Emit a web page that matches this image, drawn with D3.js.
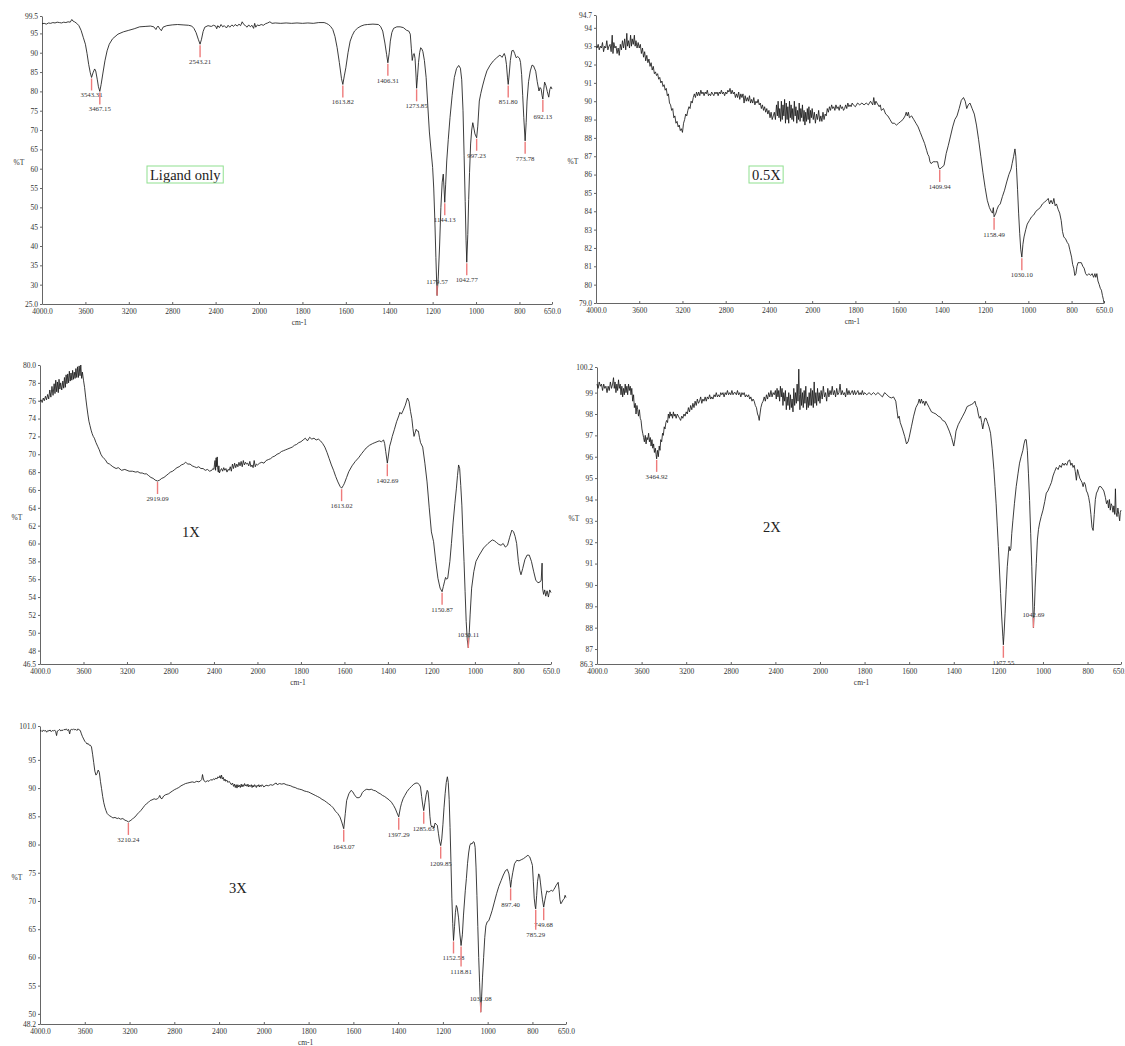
<!DOCTYPE html>
<html>
<head>
<meta charset="utf-8">
<script src="https://cdn.jsdelivr.net/npm/d3@7"></script>
<style>
  body { margin: 0; background: #fff; }
  svg { display: block; }
  text { font-family: "Liberation Serif", "Times New Roman", serif; }
</style>
</head>
<body>
<svg id="chart" width="1125" height="1046"></svg>
<script>
// ---- Wavenumber axis (shared by every spectrum) ----
const xTickValues = [4000, 3600, 3200, 2800, 2400, 2000, 1800, 1600, 1400, 1200, 1000, 800, 650];
const xTickLabels = ["4000.0", "3600", "3200", "2800", "2400", "2000", "1800", "1600", "1400", "1200", "1000", "800", "650.0"];

// ---- %T axis ticks per spectrum ----
const yTicksLigand = [99.5, 95, 90, 85, 80, 75, 70, 65, 60, 55, 50, 45, 40, 35, 30, 25.0];
const yLabelsLigand = ["99.5", "95", "90", "85", "80", "75", "70", "65", "60", "55", "50", "45", "40", "35", "30", "25.0"];
const yTicks05X = [94.7, 94, 93, 92, 91, 90, 89, 88, 87, 86, 85, 84, 83, 82, 81, 80, 79.0];
const yLabels05X = ["94.7", "94", "93", "92", "91", "90", "89", "88", "87", "86", "85", "84", "83", "82", "81", "80", "79.0"];
const yTicks1X = [80.0, 78, 76, 74, 72, 70, 68, 66, 64, 62, 60, 58, 56, 54, 52, 50, 48, 46.5];
const yLabels1X = ["80.0", "78", "76", "74", "72", "70", "68", "66", "64", "62", "60", "58", "56", "54", "52", "50", "48", "46.5"];
const yTicks2X = [100.2, 99, 98, 97, 96, 95, 94, 93, 92, 91, 90, 89, 88, 87, 86.3];
const yLabels2X = ["100.2", "99", "98", "97", "96", "95", "94", "93", "92", "91", "90", "89", "88", "87", "86.3"];
const yTicks3X = [101.0, 95, 90, 85, 80, 75, 70, 65, 60, 55, 50, 48.2];
const yLabels3X = ["101.0", "95", "90", "85", "80", "75", "70", "65", "60", "55", "50", "48.2"];

// ---- Spectra: [wavenumber cm-1, %T] ----
const spectrumLigand = [[4000,97.5],[3980,97.6],[3960,97.4],[3940,97.7],[3920,97.6],[3900,97.8],[3880,97.7],[3860,97.9],[3840,97.8],[3820,97.7],[3800,97.9],[3780,97.8],[3760,98.0],[3740,97.9],[3725,98.6],[3715,98.2],[3700,98.0],[3680,97.6],[3660,97.0],[3640,95.8],[3620,94.0],[3600,92.2],[3585,89.8],[3570,87.0],[3555,84.8],[3543.31,83.6],[3530,84.8],[3515,85.8],[3505,85.3],[3490,83.0],[3480,81.2],[3467.15,80.0],[3455,81.8],[3440,84.5],[3420,87.9],[3400,90.5],[3380,92.2],[3350,93.6],[3300,94.8],[3250,95.4],[3200,95.8],[3150,96.2],[3100,96.7],[3050,96.8],[3000,96.9],[2970,96.7],[2950,96.0],[2940,96.6],[2930,96.9],[2915,96.2],[2900,95.7],[2885,96.6],[2850,97.0],[2800,97.2],[2750,97.3],[2700,97.2],[2650,97.1],[2620,96.9],[2600,96.3],[2580,95.2],[2560,93.5],[2543.21,92.2],[2530,93.5],[2515,95.5],[2500,96.6],[2470,97.0],[2440,96.8],[2420,97.1],[2400,96.9],[2390,96.2],[2380,97.0],[2365,96.5],[2350,97.3],[2335,96.7],[2320,97.0],[2300,96.4],[2285,97.1],[2270,96.6],[2250,97.2],[2235,96.8],[2220,97.3],[2200,96.9],[2185,97.4],[2170,97.0],[2155,98.0],[2140,97.3],[2125,97.0],[2110,96.6],[2095,97.2],[2080,96.7],[2065,97.1],[2050,96.3],[2040,97.6],[2030,96.6],[2015,97.2],[2000,97.0],[1990,97.3],[1980,97.1],[1970,97.5],[1960,97.7],[1950,98.0],[1940,97.6],[1925,97.7],[1900,97.6],[1875,97.7],[1850,97.6],[1825,97.7],[1800,97.6],[1775,97.7],[1750,97.6],[1725,97.8],[1700,97.8],[1690,97.6],[1680,97.3],[1670,96.8],[1660,96.0],[1650,94.2],[1640,91.3],[1630,87.5],[1620,83.3],[1613.82,81.8],[1607,84.0],[1600,86.1],[1590,90.0],[1580,93.0],[1570,94.5],[1560,95.6],[1545,96.4],[1530,96.9],[1515,97.2],[1500,97.3],[1475,97.4],[1450,97.3],[1440,96.8],[1430,95.6],[1420,92.5],[1412,89.5],[1406.31,87.4],[1400,90.0],[1395,93.0],[1388,95.2],[1380,96.3],[1365,96.7],[1350,96.7],[1335,96.5],[1320,95.8],[1310,95.6],[1303,94.8],[1298,91.0],[1294,88.0],[1289,89.6],[1285,89.8],[1281,88.5],[1277,84.5],[1273.85,80.8],[1270,83.5],[1265,87.5],[1260,90.0],[1255,91.3],[1250,91.0],[1245,90.3],[1238,88.0],[1230,83.6],[1222,76.0],[1215,69.5],[1207,64.5],[1200,60.3],[1195,55.0],[1190,47.0],[1185,37.0],[1179.57,27.2],[1174,32.0],[1168,40.0],[1162,50.0],[1156,56.5],[1151,58.6],[1147,54.5],[1144.13,51.3],[1140,56.0],[1135,62.0],[1128,67.5],[1120,73.2],[1110,79.0],[1100,83.6],[1090,85.9],[1080,86.7],[1072,86.0],[1066,83.0],[1060,75.0],[1055,63.5],[1050,51.5],[1046,41.5],[1042.77,35.8],[1038,43.0],[1034,52.0],[1030,59.0],[1025,66.4],[1020,70.0],[1015,71.9],[1010,70.5],[1005,69.0],[997.23,68.0],[992,71.0],[985,77.5],[978,79.5],[970,81.4],[960,83.5],[950,85.3],[935,86.8],[920,87.9],[905,88.7],[890,89.4],[880,88.8],[870,89.8],[865,89.0],[860,87.0],[855,83.5],[851.80,81.8],[847,84.5],[842,88.0],[835,90.5],[828,90.6],[822,89.8],[815,88.7],[808,89.0],[800,88.6],[795,87.5],[790,84.4],[785,79.0],[780,73.2],[773.78,67.2],[769,72.0],[765,77.5],[758,82.5],[750,85.3],[742,86.8],[735,86.6],[725,85.2],[718,82.5],[710,80.1],[705,81.0],[700,80.6],[696,79.0],[692.13,78.0],[688,80.5],[684,82.4],[678,81.5],[672,80.0],[665,78.5],[660,80.5],[655,81.2],[650,80.6]];

const spectrum05X = [[4000,93.0],[3990,92.9],[3980,93.1],[3970,92.8],[3960,93.0],[3950,92.9],[3940,93.2],[3930,92.7],[3920,93.0],[3910,92.9],[3900,93.3],[3890,92.8],[3880,93.0],[3870,93.1],[3860,92.7],[3850,93.6],[3843,92.6],[3835,93.2],[3825,92.9],[3815,93.0],[3805,92.6],[3795,92.9],[3785,92.5],[3775,93.1],[3765,92.8],[3755,93.3],[3745,92.9],[3735,93.4],[3725,92.8],[3715,93.7],[3708,93.0],[3700,93.3],[3690,92.9],[3680,93.6],[3672,93.0],[3665,93.4],[3655,93.1],[3645,93.6],[3638,93.0],[3630,93.3],[3620,92.9],[3610,93.2],[3600,92.9],[3590,93.1],[3580,92.6],[3570,92.9],[3560,92.4],[3550,92.7],[3540,92.2],[3530,92.5],[3520,92.1],[3510,92.3],[3500,91.9],[3490,92.1],[3480,91.7],[3470,91.9],[3460,91.5],[3450,91.6],[3440,91.4],[3430,91.5],[3420,91.2],[3410,91.3],[3400,91.0],[3390,91.1],[3380,90.8],[3370,90.9],[3360,90.6],[3350,90.7],[3340,90.3],[3330,90.4],[3320,89.9],[3310,89.8],[3300,89.5],[3290,89.6],[3280,89.1],[3270,89.2],[3260,88.8],[3250,88.9],[3240,88.6],[3230,88.7],[3220,88.4],[3210,88.5],[3200,88.3],[3190,88.8],[3180,89.0],[3170,89.3],[3160,89.2],[3150,89.5],[3140,89.7],[3130,89.6],[3120,90.0],[3110,89.9],[3100,90.2],[3090,90.4],[3080,90.2],[3070,90.5],[3060,90.3],[3050,90.5],[3040,90.3],[3030,90.6],[3020,90.4],[3010,90.5],[3000,90.3],[2990,90.5],[2980,90.4],[2970,90.6],[2960,90.3],[2950,90.4],[2940,90.3],[2930,90.5],[2920,90.4],[2910,90.3],[2900,90.5],[2890,90.4],[2880,90.5],[2870,90.3],[2860,90.5],[2850,90.4],[2840,90.6],[2830,90.4],[2820,90.5],[2810,90.3],[2800,90.5],[2790,90.4],[2780,90.6],[2770,90.5],[2760,90.7],[2750,90.4],[2740,90.6],[2730,90.4],[2720,90.5],[2710,90.2],[2700,90.4],[2690,90.2],[2680,90.5],[2670,90.1],[2660,90.4],[2650,90.2],[2640,90.4],[2630,89.9],[2620,90.3],[2610,90.0],[2600,90.2],[2590,90.0],[2580,90.3],[2570,89.9],[2560,90.1],[2550,89.9],[2540,90.2],[2530,89.8],[2520,90.0],[2510,89.9],[2500,90.1],[2490,89.8],[2480,89.9],[2470,89.6],[2460,89.8],[2450,89.5],[2440,89.7],[2430,89.4],[2420,89.6],[2410,89.3],[2400,89.5],[2390,89.1],[2380,89.4],[2370,89.0],[2360,89.2],[2350,89.4],[2340,89.0],[2330,89.8],[2322,89.2],[2315,90.0],[2307,89.1],[2300,89.6],[2292,88.9],[2285,90.0],[2277,89.0],[2270,89.8],[2262,89.2],[2255,90.1],[2247,88.8],[2240,89.9],[2232,89.0],[2225,89.7],[2217,88.8],[2210,90.0],[2202,89.1],[2195,89.8],[2187,89.0],[2180,89.6],[2172,88.9],[2165,90.0],[2157,89.2],[2150,89.7],[2142,88.8],[2135,89.5],[2127,89.0],[2120,89.9],[2112,88.9],[2105,89.6],[2097,89.1],[2090,89.8],[2082,88.9],[2075,89.5],[2067,88.7],[2060,89.4],[2052,88.9],[2045,89.6],[2037,89.0],[2030,89.7],[2022,88.8],[2015,89.5],[2007,89.1],[2000,89.6],[1995,89.0],[1990,89.4],[1985,88.8],[1980,89.3],[1975,89.0],[1970,89.5],[1965,88.9],[1960,89.2],[1955,88.9],[1950,89.4],[1945,89.0],[1940,89.3],[1935,89.2],[1930,89.6],[1925,89.4],[1920,89.7],[1915,89.5],[1910,89.8],[1905,89.6],[1900,89.7],[1895,89.5],[1890,89.8],[1885,89.6],[1880,89.7],[1875,89.5],[1870,89.8],[1865,89.6],[1860,89.7],[1855,89.5],[1850,89.6],[1845,89.8],[1840,89.6],[1835,89.9],[1830,89.7],[1825,89.8],[1820,89.7],[1815,89.9],[1810,89.8],[1800,89.7],[1790,89.9],[1780,89.8],[1770,89.9],[1760,89.8],[1750,89.9],[1740,89.8],[1730,90.0],[1720,89.8],[1715,90.2],[1710,89.8],[1705,90.0],[1700,89.9],[1690,89.7],[1685,89.8],[1680,89.5],[1670,89.6],[1660,89.3],[1650,89.2],[1640,89.0],[1630,88.8],[1620,88.8],[1610,88.7],[1600,88.8],[1590,88.9],[1580,89.0],[1570,89.2],[1565,89.4],[1560,89.2],[1555,89.4],[1550,89.1],[1540,89.2],[1530,89.0],[1520,88.8],[1510,88.6],[1500,88.3],[1490,88.0],[1480,87.7],[1470,87.3],[1465,87.1],[1460,87.0],[1455,86.7],[1450,86.6],[1440,86.7],[1430,86.7],[1420,86.7],[1415,86.4],[1409.94,86.3],[1400,86.4],[1390,86.5],[1380,87.15],[1370,87.6],[1360,88.1],[1350,88.6],[1340,89.0],[1330,89.2],[1320,89.6],[1310,90.05],[1300,90.2],[1292,90.0],[1285,89.6],[1278,89.8],[1270,89.9],[1260,89.6],[1250,89.3],[1240,88.7],[1230,87.9],[1220,87.0],[1210,86.1],[1200,85.3],[1190,84.6],[1180,84.2],[1172,84.0],[1166,83.9],[1162,84.2],[1158.49,83.7],[1150,83.9],[1145,84.1],[1138,84.3],[1130,84.4],[1120,84.8],[1110,85.15],[1100,85.6],[1090,86.0],[1080,86.3],[1075,86.6],[1068,87.0],[1062,87.4],[1058,87.0],[1055,86.4],[1050,85.2],[1045,83.9],[1040,82.8],[1035,81.9],[1030.10,81.5],[1025,82.2],[1020,82.6],[1012,83.0],[1005,83.3],[995,83.5],[985,83.7],[975,83.8],[965,84.0],[955,84.1],[945,84.2],[935,84.4],[925,84.5],[915,84.6],[908,84.7],[902,84.4],[895,84.6],[888,84.4],[882,84.7],[876,84.3],[870,84.4],[862,84.1],[855,83.9],[848,83.5],[842,82.9],[836,82.6],[828,82.5],[820,82.3],[814,82.2],[808,81.9],[800,81.5],[795,81.1],[790,80.9],[785,80.5],[780,80.6],[775,81.0],[770,81.2],[762,81.2],[755,81.2],[748,81.0],[742,80.9],[735,80.6],[728,80.5],[720,80.6],[712,80.5],[705,80.6],[698,80.4],[692,80.6],[688,80.4],[683,80.6],[678,80.2],[672,80.0],[667,79.8],[662,79.7],[657,79.4],[653,79.2],[650,79.0]];

const spectrum1X = [[4000,75.9],[3990,76.1],[3980,75.8],[3970,76.3],[3960,76.0],[3950,76.5],[3940,76.1],[3930,76.7],[3920,76.2],[3910,77.2],[3900,76.4],[3890,77.6],[3880,76.6],[3870,77.9],[3862,76.8],[3855,78.3],[3847,77.0],[3840,78.1],[3832,76.9],[3825,78.4],[3817,77.3],[3810,78.0],[3800,77.2],[3790,78.2],[3782,77.4],[3775,78.6],[3767,77.5],[3760,78.9],[3752,77.9],[3745,79.0],[3737,78.0],[3730,79.3],[3722,78.2],[3715,79.1],[3707,78.3],[3700,79.4],[3692,78.4],[3685,79.2],[3677,78.5],[3670,79.6],[3662,78.6],[3655,79.8],[3647,78.6],[3640,79.9],[3632,78.8],[3625,80.0],[3617,78.5],[3610,79.2],[3600,78.3],[3590,77.5],[3580,76.4],[3570,75.4],[3560,74.5],[3550,73.7],[3540,73.2],[3530,72.7],[3520,72.3],[3510,72.0],[3500,71.8],[3485,71.3],[3470,70.9],[3455,70.5],[3440,70.0],[3425,69.7],[3410,69.5],[3400,69.4],[3380,69.0],[3360,68.9],[3350,68.8],[3330,68.6],[3300,68.4],[3280,68.5],[3250,68.2],[3220,68.3],[3200,68.2],[3180,68.1],[3150,68.1],[3120,68.0],[3100,68.05],[3080,67.9],[3060,67.9],[3040,67.8],[3020,67.8],[3000,67.6],[2980,67.4],[2960,67.3],[2940,67.1],[2919.09,67.0],[2900,67.1],[2880,67.3],[2860,67.4],[2840,67.6],[2820,67.8],[2800,68.0],[2780,68.1],[2760,68.3],[2740,68.5],[2720,68.6],[2700,68.8],[2680,68.9],[2660,69.1],[2650,69.0],[2640,68.9],[2620,68.9],[2600,68.7],[2580,68.6],[2560,68.5],[2540,68.6],[2520,68.4],[2500,68.4],[2480,68.2],[2460,68.3],[2440,68.1],[2420,68.2],[2410,68.4],[2400,68.3],[2395,68.9],[2390,69.3],[2385,68.2],[2380,69.6],[2375,68.6],[2370,69.7],[2365,68.3],[2360,68.0],[2355,68.7],[2350,67.9],[2340,68.2],[2330,68.4],[2320,68.1],[2310,68.5],[2300,68.2],[2290,68.4],[2280,68.0],[2270,68.3],[2260,68.2],[2250,68.6],[2240,68.1],[2230,68.9],[2220,68.4],[2210,69.0],[2200,68.5],[2190,68.9],[2180,68.6],[2170,69.1],[2160,68.7],[2150,69.2],[2140,68.6],[2130,69.3],[2120,68.8],[2110,69.1],[2100,68.9],[2090,69.0],[2080,68.7],[2070,69.2],[2060,68.6],[2050,68.8],[2040,68.5],[2030,69.3],[2020,68.6],[2010,68.9],[2000,68.8],[1990,69.0],[1980,69.1],[1970,69.0],[1960,69.3],[1950,69.4],[1940,69.5],[1930,69.7],[1920,69.8],[1910,70.0],[1900,70.1],[1890,70.3],[1880,70.4],[1870,70.5],[1860,70.6],[1850,70.7],[1840,70.8],[1830,71.0],[1820,71.1],[1810,71.3],[1800,71.4],[1790,71.6],[1780,71.8],[1770,71.5],[1760,71.9],[1750,71.7],[1740,71.8],[1730,71.6],[1720,71.7],[1710,71.5],[1700,71.2],[1690,70.8],[1680,70.2],[1670,69.5],[1660,68.8],[1650,68.2],[1640,67.5],[1630,66.9],[1620,66.4],[1613.02,66.2],[1605,66.5],[1600,66.75],[1590,67.4],[1580,68.05],[1565,68.7],[1550,69.2],[1535,69.6],[1520,70.1],[1510,70.4],[1500,70.7],[1485,71.0],[1470,71.2],[1460,71.3],[1450,71.4],[1440,71.5],[1430,71.4],[1420,71.6],[1415,71.2],[1410,70.3],[1402.69,69.0],[1398,69.8],[1392,70.9],[1385,71.5],[1380,72.0],[1370,72.8],[1360,73.65],[1350,74.3],[1345,74.7],[1338,74.5],[1330,74.9],[1320,75.5],[1310,76.3],[1303,75.9],[1296,74.8],[1290,74.0],[1285,72.9],[1280,72.0],[1275,72.4],[1270,72.8],[1265,72.6],[1260,72.6],[1255,71.9],[1250,71.3],[1240,70.8],[1230,69.0],[1220,66.9],[1210,64.0],[1200,61.3],[1190,60.2],[1180,58.0],[1170,56.1],[1160,55.0],[1150.87,54.6],[1145,55.2],[1140,55.7],[1135,56.2],[1130,56.0],[1125,56.1],[1115,58.0],[1108,60.0],[1100,62.4],[1092,64.5],[1085,66.2],[1080,67.6],[1075,68.8],[1070,68.4],[1065,66.5],[1060,64.3],[1055,61.0],[1050,58.0],[1045,54.6],[1040,51.25],[1035,49.2],[1030.11,48.3],[1026,50.0],[1022,52.0],[1015,55.0],[1005,56.85],[995,58.0],[980,58.7],[960,59.5],[940,60.0],[920,60.4],[910,60.3],[900,60.1],[890,59.9],[880,59.8],[870,60.0],[860,59.6],[850,59.8],[840,60.7],[830,61.5],[822,61.3],[815,60.8],[808,60.0],[800,58.0],[794,57.0],[788,56.5],[780,57.2],[770,58.2],[760,58.7],[750,58.7],[740,58.0],[730,56.9],[720,55.9],[710,55.6],[700,55.7],[695,55.9],[691,57.8],[689,55.0],[684,54.3],[679,54.8],[674,54.1],[668,54.7],[662,54.0],[656,54.8],[650,54.5]];

const spectrum2X = [[4000,99.4],[3990,99.2],[3980,99.5],[3970,99.3],[3960,99.4],[3950,99.1],[3940,99.4],[3930,99.2],[3920,99.3],[3910,99.0],[3900,99.3],[3890,99.1],[3880,99.5],[3870,99.2],[3860,99.4],[3852,99.7],[3845,99.2],[3838,99.5],[3830,99.0],[3822,99.4],[3815,99.1],[3807,99.6],[3800,99.2],[3792,99.4],[3785,98.9],[3777,99.3],[3770,98.8],[3762,99.2],[3755,98.9],[3747,99.4],[3740,99.0],[3732,99.3],[3725,98.9],[3717,99.4],[3710,99.1],[3702,99.3],[3695,98.9],[3688,99.2],[3680,98.6],[3672,98.9],[3665,98.3],[3657,98.5],[3650,98.0],[3642,98.4],[3635,98.2],[3628,97.9],[3620,98.2],[3612,97.8],[3605,97.7],[3597,97.3],[3590,97.1],[3582,96.9],[3575,96.7],[3567,97.0],[3560,96.6],[3552,96.9],[3545,96.8],[3537,97.1],[3530,96.7],[3522,96.9],[3515,96.5],[3507,96.8],[3500,96.4],[3492,96.6],[3485,96.2],[3477,96.4],[3470,96.1],[3464.92,95.9],[3458,96.3],[3450,96.0],[3442,96.5],[3435,96.3],[3428,96.8],[3420,96.7],[3412,97.1],[3405,97.0],[3397,97.4],[3390,97.3],[3382,97.6],[3375,97.7],[3367,97.6],[3360,98.0],[3352,97.8],[3345,98.1],[3337,97.9],[3330,98.0],[3322,97.8],[3315,98.1],[3307,97.9],[3300,98.0],[3290,97.8],[3280,98.0],[3270,97.9],[3260,97.8],[3250,97.7],[3240,97.9],[3230,97.8],[3220,98.0],[3210,97.9],[3200,98.1],[3190,98.0],[3180,98.3],[3170,98.1],[3160,98.4],[3150,98.2],[3140,98.5],[3130,98.3],[3120,98.6],[3110,98.4],[3100,98.7],[3090,98.5],[3080,98.6],[3070,98.8],[3060,98.5],[3050,98.7],[3040,98.6],[3030,98.8],[3020,98.6],[3010,98.8],[3000,98.7],[2990,98.9],[2980,98.7],[2970,98.8],[2960,98.7],[2950,98.9],[2940,98.8],[2930,99.0],[2920,98.8],[2910,98.9],[2900,98.8],[2890,99.0],[2880,98.9],[2870,99.0],[2860,98.8],[2850,99.0],[2840,98.9],[2830,99.1],[2820,98.9],[2810,99.0],[2800,98.9],[2790,99.1],[2780,98.9],[2770,99.0],[2760,99.0],[2750,98.9],[2740,99.1],[2730,98.9],[2720,99.0],[2710,98.8],[2700,99.0],[2690,98.9],[2680,99.0],[2670,98.8],[2660,98.9],[2650,98.8],[2640,98.9],[2630,98.7],[2620,98.8],[2610,98.6],[2600,98.7],[2590,98.6],[2580,98.4],[2570,98.3],[2560,98.0],[2552,97.9],[2545,97.7],[2538,98.0],[2530,98.3],[2520,98.5],[2510,98.6],[2500,98.8],[2490,98.6],[2480,98.9],[2470,98.7],[2460,99.0],[2450,98.8],[2440,99.1],[2430,98.8],[2420,99.0],[2410,98.9],[2400,99.1],[2392,98.7],[2385,99.2],[2377,98.8],[2370,99.1],[2362,98.6],[2355,99.3],[2347,98.8],[2340,99.2],[2332,98.4],[2325,99.0],[2317,98.6],[2310,99.1],[2302,98.2],[2295,98.8],[2287,98.4],[2280,99.0],[2272,98.2],[2265,98.9],[2257,98.3],[2250,98.7],[2242,98.1],[2235,99.2],[2227,98.4],[2220,99.0],[2212,98.5],[2205,99.4],[2197,98.6],[2190,100.1],[2185,98.9],[2180,98.2],[2172,99.2],[2165,98.4],[2157,99.0],[2150,98.3],[2142,99.1],[2135,98.5],[2127,99.3],[2120,98.2],[2112,98.8],[2105,98.3],[2097,99.0],[2090,98.4],[2082,99.2],[2075,98.4],[2067,99.1],[2060,98.3],[2052,99.5],[2045,98.5],[2037,99.0],[2030,98.4],[2022,99.2],[2015,98.6],[2007,99.0],[2000,98.5],[1995,99.1],[1990,98.7],[1985,99.3],[1980,98.8],[1975,99.0],[1970,98.6],[1965,99.2],[1960,98.8],[1955,99.1],[1950,98.9],[1945,99.3],[1940,98.9],[1935,99.1],[1930,98.8],[1925,99.2],[1920,98.9],[1915,99.0],[1910,99.4],[1905,98.9],[1900,99.1],[1895,98.9],[1890,99.0],[1885,98.8],[1880,99.2],[1875,98.9],[1870,99.1],[1865,98.9],[1860,99.0],[1855,99.1],[1850,98.9],[1845,99.1],[1840,98.9],[1835,99.0],[1830,99.1],[1825,98.9],[1820,99.0],[1815,98.9],[1810,99.1],[1805,98.9],[1800,99.0],[1790,98.9],[1780,99.0],[1770,98.9],[1760,99.0],[1750,98.9],[1740,99.0],[1730,98.9],[1720,98.8],[1710,99.0],[1700,98.9],[1690,98.8],[1680,98.75],[1670,98.8],[1660,98.6],[1655,98.2],[1650,97.8],[1645,97.9],[1640,97.6],[1630,97.3],[1620,96.95],[1612,96.6],[1605,96.7],[1600,96.9],[1590,97.4],[1580,97.9],[1570,98.3],[1560,98.5],[1555,98.7],[1550,98.5],[1545,98.7],[1540,98.5],[1535,98.6],[1530,98.4],[1525,98.6],[1520,98.5],[1510,98.3],[1500,98.1],[1490,98.05],[1480,98.0],[1470,97.9],[1460,97.85],[1450,97.7],[1440,97.65],[1430,97.45],[1420,97.2],[1410,96.9],[1400,96.5],[1395,96.8],[1390,97.2],[1380,97.5],[1370,97.7],[1360,97.9],[1350,98.1],[1340,98.35],[1330,98.4],[1320,98.45],[1312,98.5],[1305,98.6],[1300,98.4],[1295,98.3],[1290,98.0],[1285,97.8],[1280,97.9],[1275,97.6],[1270,97.3],[1265,97.6],[1260,97.8],[1255,97.8],[1250,97.65],[1242,97.4],[1235,97.1],[1228,96.4],[1220,95.4],[1215,94.6],[1210,93.8],[1205,92.8],[1200,91.8],[1195,90.7],[1190,89.6],[1185,88.5],[1180,87.6],[1177.55,87.2],[1174,87.8],[1170,88.65],[1165,89.8],[1160,90.85],[1155,91.5],[1152,91.8],[1148,91.6],[1144,91.7],[1140,92.4],[1135,93.0],[1128,93.8],[1120,94.6],[1112,95.2],[1105,95.7],[1098,96.0],[1090,96.3],[1085,96.6],[1080,96.8],[1075,96.8],[1070,96.3],[1065,95.2],[1060,93.95],[1055,92.4],[1050,90.85],[1046,89.2],[1042.69,88.0],[1038,89.0],[1035,89.9],[1030,91.0],[1025,92.1],[1020,92.6],[1015,92.9],[1008,93.2],[1000,93.5],[992,93.9],[985,94.3],[978,94.4],[970,94.6],[962,94.8],[955,95.1],[948,95.3],[940,95.5],[932,95.4],[925,95.6],[918,95.5],[912,95.7],[905,95.6],[900,95.7],[893,95.6],[887,95.8],[880,95.85],[875,95.6],[870,95.7],[865,95.5],[860,95.6],[855,95.3],[850,94.9],[845,95.4],[840,95.2],[835,95.0],[830,94.9],[825,94.8],[820,94.6],[815,94.8],[810,94.7],[805,94.4],[800,94.3],[795,94.1],[790,93.8],[785,93.3],[780,92.7],[775,92.55],[770,93.3],[765,94.0],[760,94.3],[755,94.4],[748,94.6],[740,94.6],[733,94.5],[727,94.4],[720,94.1],[715,93.8],[710,93.95],[706,93.6],[702,94.0],[698,93.5],[694,93.8],[690,93.7],[686,93.4],[682,93.7],[678,93.3],[675,94.5],[672,93.4],[668,93.2],[664,93.6],[660,93.3],[656,93.0],[653,93.4],[650,93.5]];

const spectrum3X = [[4000,100.1],[3990,100.2],[3980,100.0],[3970,100.3],[3960,100.1],[3950,100.2],[3940,99.9],[3930,100.2],[3920,100.1],[3910,100.3],[3900,100.0],[3890,100.2],[3880,100.1],[3870,100.3],[3860,100.0],[3852,99.3],[3845,100.1],[3835,100.2],[3825,100.4],[3815,100.1],[3805,100.3],[3795,100.2],[3785,100.4],[3775,100.3],[3765,100.5],[3755,100.2],[3745,100.4],[3735,99.6],[3728,100.3],[3720,100.4],[3710,100.3],[3700,100.5],[3690,100.3],[3680,100.4],[3670,100.2],[3660,100.5],[3650,100.3],[3640,100.2],[3630,99.6],[3620,99.1],[3610,98.7],[3600,98.3],[3590,98.1],[3580,97.8],[3570,97.9],[3560,97.6],[3550,97.6],[3540,97.3],[3530,96.0],[3520,94.5],[3510,93.0],[3500,92.3],[3490,92.6],[3480,93.2],[3470,92.8],[3460,91.2],[3450,89.9],[3440,88.5],[3430,87.4],[3420,86.6],[3410,86.0],[3400,85.5],[3380,85.1],[3360,84.9],[3350,84.7],[3330,84.8],[3310,84.6],[3300,84.7],[3280,84.5],[3260,84.6],[3240,84.3],[3225,84.2],[3210.24,84.0],[3195,84.2],[3180,84.4],[3165,84.7],[3150,84.9],[3130,85.4],[3115,85.7],[3100,86.0],[3080,86.5],[3065,86.9],[3050,87.2],[3030,87.5],[3015,87.8],[3000,87.9],[2980,88.1],[2965,88.0],[2950,88.1],[2940,88.3],[2930,88.7],[2920,88.2],[2910,88.1],[2895,88.6],[2880,88.8],[2865,88.9],[2850,89.0],[2830,89.3],[2815,89.5],[2800,89.7],[2780,89.9],[2760,90.1],[2740,90.4],[2720,90.6],[2700,90.8],[2680,90.9],[2660,91.0],[2640,91.1],[2620,91.0],[2600,91.2],[2580,91.1],[2565,91.3],[2555,91.5],[2548,92.4],[2542,91.8],[2535,91.3],[2520,91.1],[2505,91.3],[2490,91.2],[2475,91.5],[2460,91.4],[2450,91.65],[2440,91.5],[2430,91.8],[2420,91.6],[2410,92.0],[2400,91.8],[2392,92.2],[2385,91.7],[2378,92.3],[2370,91.6],[2362,91.9],[2355,91.3],[2347,91.6],[2340,91.2],[2330,91.4],[2320,91.0],[2310,91.2],[2300,90.9],[2290,90.6],[2280,90.9],[2270,90.3],[2262,90.7],[2255,90.1],[2247,90.6],[2240,90.0],[2232,90.6],[2225,90.2],[2217,90.5],[2210,90.1],[2202,90.7],[2195,90.2],[2187,90.6],[2180,90.3],[2172,90.8],[2165,90.4],[2157,90.6],[2150,90.3],[2142,90.7],[2135,90.2],[2127,90.5],[2120,90.3],[2112,90.6],[2105,90.1],[2097,90.5],[2090,90.2],[2082,90.6],[2075,90.4],[2067,90.1],[2060,90.5],[2052,90.3],[2045,90.6],[2037,90.2],[2030,90.5],[2022,90.3],[2015,90.6],[2007,90.4],[2000,90.2],[1990,90.5],[1980,90.4],[1970,90.6],[1960,90.5],[1950,90.8],[1945,90.9],[1940,90.6],[1930,90.8],[1920,90.7],[1910,90.8],[1900,90.6],[1890,90.5],[1880,90.4],[1870,90.2],[1860,90.1],[1850,89.9],[1840,89.8],[1830,89.7],[1820,89.5],[1810,89.4],[1800,89.3],[1790,89.1],[1780,88.9],[1770,88.7],[1760,88.5],[1750,88.3],[1740,88.0],[1730,87.8],[1720,87.5],[1710,87.2],[1700,86.9],[1690,86.5],[1680,85.9],[1670,85.5],[1660,84.9],[1652,84.0],[1643.07,82.8],[1636,85.5],[1630,87.8],[1620,89.0],[1610,89.6],[1602,89.3],[1595,88.8],[1585,88.3],[1575,88.3],[1568,88.5],[1560,89.2],[1550,89.6],[1540,89.8],[1530,89.7],[1520,89.8],[1510,89.6],[1500,89.5],[1490,89.2],[1480,89.0],[1470,88.7],[1460,88.5],[1450,88.2],[1440,87.9],[1430,87.5],[1420,86.9],[1412,86.3],[1405,85.6],[1397.29,84.9],[1390,86.5],[1385,87.3],[1378,88.1],[1370,88.7],[1360,89.4],[1350,89.9],[1340,90.3],[1330,90.7],[1320,90.9],[1312,90.85],[1305,90.6],[1300,90.2],[1295,88.5],[1290,87.0],[1285.63,86.0],[1280,87.5],[1275,88.8],[1270,89.6],[1266,89.3],[1262,87.5],[1258,85.0],[1254,83.5],[1250,83.1],[1245,83.3],[1240,82.9],[1235,83.8],[1230,83.6],[1225,83.4],[1220,82.0],[1215,80.6],[1209.85,79.8],[1205,81.0],[1200,83.5],[1195,86.5],[1190,89.0],[1185,91.0],[1180,92.0],[1176,91.0],[1172,88.0],[1168,83.0],[1164,77.0],[1160,70.5],[1156,66.0],[1152.58,63.0],[1148,65.5],[1144,68.0],[1140,69.2],[1136,68.8],[1130,67.0],[1125,64.5],[1118.81,62.1],[1113,64.0],[1108,67.5],[1100,71.8],[1095,74.0],[1090,76.6],[1085,78.5],[1080,79.8],[1075,80.2],[1070,80.1],[1064,80.5],[1060,80.4],[1056,79.5],[1052,76.0],[1048,71.0],[1044,65.5],[1040,60.0],[1036,55.5],[1031.08,50.3],[1027,53.0],[1023,56.5],[1018,60.0],[1013,63.5],[1008,65.6],[1002,66.3],[995,66.5],[988,67.3],[980,68.3],[970,69.8],[960,71.3],[950,72.6],[940,73.6],[930,74.6],[920,75.4],[912,75.6],[905,74.8],[900,73.4],[897.40,72.4],[893,73.8],[888,75.0],[880,76.6],[870,77.2],[860,77.1],[850,77.3],[840,77.5],[830,77.8],[820,78.1],[812,77.8],[805,77.0],[800,76.3],[796,73.5],[792,70.5],[788,69.1],[785.29,68.6],[781,71.0],[777,73.5],[772,74.8],[768,74.5],[764,73.2],[760,71.8],[755,70.2],[749.68,68.9],[745,70.0],[740,71.0],[735,71.8],[730,71.6],[725,71.6],[720,71.8],[715,71.9],[710,71.7],[705,72.0],[700,72.3],[695,72.7],[690,73.0],[685,73.3],[681,72.0],[677,70.2],[673,69.5],[668,69.8],[663,70.2],[658,70.4],[654,71.0],[650,70.6]];

// ---- Labelled absorption bands (cm-1) ----
const peaksLigand = [3543.31, 3467.15, 2543.21, 1613.82, 1406.31, 1273.85, 1179.57, 1144.13, 1042.77, 997.23, 851.80, 773.78, 692.13];
const peaks05X = [1409.94, 1158.49, 1030.10];
const peaks1X = [2919.09, 1613.02, 1402.69, 1150.87, 1030.11];
const peaks2X = [3464.92, 1177.55, 1042.69];
const peaks3X = [3210.24, 1643.07, 1397.29, 1285.63, 1209.85, 1152.58, 1118.81, 1031.08, 897.40, 785.29, 749.68];

// Sample captions
const sampleNames = ["Ligand only", "0.5X", "1X", "2X", "3X"];

// ---- Panel layout ----
const panels = [
  { name: sampleNames[0], data: spectrumLigand, peaks: peaksLigand, yTicks: yTicksLigand, yLabels: yLabelsLigand,
    x0: 42, x1: 552, yTop: 16, yBot: 304, cap: { x: 150, y: 180, boxed: true } },
  { name: sampleNames[1], data: spectrum05X, peaks: peaks05X, yTicks: yTicks05X, yLabels: yLabels05X,
    x0: 596, x1: 1104, yTop: 15, yBot: 303, cap: { x: 752, y: 180, boxed: true } },
  { name: sampleNames[2], data: spectrum1X, peaks: peaks1X, yTicks: yTicks1X, yLabels: yLabels1X,
    x0: 40, x1: 551, yTop: 365, yBot: 664, cap: { x: 182, y: 537, boxed: false } },
  { name: sampleNames[3], data: spectrum2X, peaks: peaks2X, yTicks: yTicks2X, yLabels: yLabels2X,
    x0: 597, x1: 1121, yTop: 367, yBot: 664, cap: { x: 763, y: 532, boxed: false } },
  { name: sampleNames[4], data: spectrum3X, peaks: peaks3X, yTicks: yTicks3X, yLabels: yLabels3X,
    x0: 40, x1: 566, yTop: 726, yBot: 1024, cap: { x: 229, y: 893, boxed: false } }
];

// Bands whose wavenumber label sits above the dip (no room below it)
const labelAboveDip = new Set([1179.57, 1030.11, 1042.69, 1031.08]);

const svg = d3.select("#chart");
svg.append("rect").attr("width", 1125).attr("height", 1046).attr("fill", "#fff");

function valueAt(data, wn) {
  const hit = data.find(d => d[0] === wn);
  if (hit) return hit[1];
  for (let i = 1; i < data.length; i++) {
    const a = data[i - 1], b = data[i];
    if (wn <= a[0] && wn >= b[0]) {
      const t = (a[0] - wn) / (a[0] - b[0]);
      return a[1] + t * (b[1] - a[1]);
    }
  }
  return data[data.length - 1][1];
}

function boxesOverlap(a, b) {
  return a.x < b.x + b.width && b.x < a.x + a.width && a.y < b.y + b.height && b.y < a.y + a.height;
}

panels.forEach(p => {
  const g = svg.append("g");
  // IR convention: the axis runs 4000 -> 650 cm-1 with a 2x expansion below 2000 cm-1
  const unit = (p.x1 - p.x0) / 11.75;
  const x = d3.scaleLinear().domain([4000, 2000, 650]).range([p.x0, p.x0 + 5 * unit, p.x1]);
  const y = d3.scaleLinear()
    .domain([p.yTicks[p.yTicks.length - 1], p.yTicks[0]])
    .range([p.yBot, p.yTop]);

  // x axis
  const xAxis = d3.axisBottom(x)
    .tickValues(xTickValues)
    .tickFormat((d, i) => xTickLabels[i])
    .tickSizeInner(-2).tickSizeOuter(0).tickPadding(5);
  const gx = g.append("g").attr("transform", `translate(0,${p.yBot})`).call(xAxis);
  gx.select(".domain").attr("stroke", "#666");
  gx.selectAll(".tick line").attr("stroke", "#666");
  gx.selectAll(".tick text").attr("fill", "#333").style("font-size", "7.5px")
    .style("font-family", '"Liberation Serif", serif');

  // y axis
  const yAxis = d3.axisLeft(y)
    .tickValues(p.yTicks)
    .tickFormat((d, i) => p.yLabels[i])
    .tickSizeInner(2).tickSizeOuter(0).tickPadding(2);
  const gy = g.append("g").attr("transform", `translate(${p.x0},0)`).call(yAxis);
  gy.select(".domain").attr("stroke", "#666");
  gy.selectAll(".tick line").attr("stroke", "#666");
  gy.selectAll(".tick text").attr("fill", "#333").style("font-size", "7.5px")
    .style("font-family", '"Liberation Serif", serif');

  // axis titles
  g.append("text").attr("x", p.x0 - 23).attr("y", (p.yTop + p.yBot) / 2 + 5)
    .attr("text-anchor", "middle").attr("fill", "#333").style("font-size", "7.5px").text("%T");
  g.append("text").attr("x", x(1800) - 3).attr("y", p.yBot + 21)
    .attr("text-anchor", "middle").attr("fill", "#333").style("font-size", "7.5px").text("cm-1");

  // spectrum trace
  const line = d3.line().x(d => x(d[0])).y(d => y(d[1]));
  g.append("path").datum(p.data)
    .attr("d", line)
    .attr("fill", "none")
    .attr("stroke", "#1a1a1a")
    .attr("stroke-width", 0.85)
    .attr("stroke-linejoin", "round");

  // band markers and wavenumber labels; labels that would collide with an
  // already placed one are pushed further down
  const marks = p.peaks.map(wn => {
    const py = y(valueAt(p.data, wn));
    const above = labelAboveDip.has(wn);
    return { wn, px: x(wn), py, above, ly: above ? py - 11 : py + 20 };
  }).sort((a, b) => a.ly - b.ly);

  const placed = [];
  marks.forEach(m => {
    const t = g.append("text")
      .attr("x", m.px).attr("y", m.ly)
      .attr("text-anchor", "middle").attr("fill", "#333")
      .style("font-size", "6.8px")
      .text(m.wn.toFixed(2));
    let bb = t.node().getBBox();
    let guard = 0;
    while (!m.above && placed.some(o => boxesOverlap(o, bb)) && guard < 5) {
      m.ly += 8;
      t.attr("y", m.ly);
      bb = t.node().getBBox();
      guard++;
    }
    placed.push(bb);
    g.append("line")
      .attr("x1", m.px).attr("x2", m.px)
      .attr("y1", m.above ? m.py : m.py + 1)
      .attr("y2", m.above ? m.py - 10 : m.ly - 7)
      .attr("stroke", "#ee7b7b").attr("stroke-width", 1.4);
  });

  // sample caption
  const cap = g.append("text")
    .attr("x", p.cap.x).attr("y", p.cap.y)
    .attr("fill", "#222").style("font-size", "14.5px")
    .text(p.name);
  if (p.cap.boxed) {
    const bb = cap.node().getBBox();
    g.append("rect")
      .attr("x", bb.x - 3).attr("y", bb.y - 1)
      .attr("width", bb.width + 5).attr("height", bb.height + 1)
      .attr("fill", "none").attr("stroke", "#8fe08f").attr("stroke-width", 1);
  }
});
</script>
</body>
</html>
